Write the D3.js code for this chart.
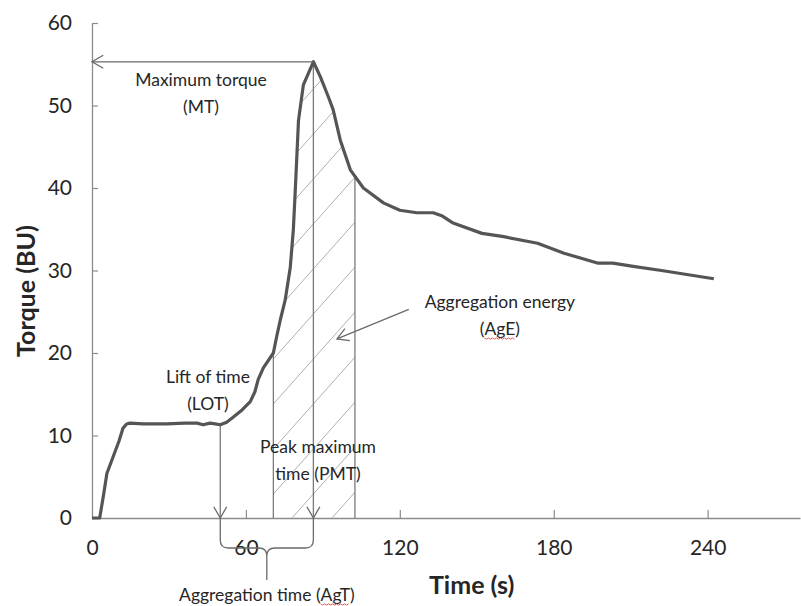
<!DOCTYPE html>
<html>
<head>
<meta charset="utf-8">
<script src="https://cdn.jsdelivr.net/npm/d3@7"></script>
<style>
  body { margin: 0; background: #fff; }
  text { font-family: Lato, "Open Sans", sans-serif; fill: #262626; }
</style>
</head>
<body>
<svg id="chart" width="801" height="606"></svg>
<script>
// torque curve
var timeS    = [0, 3, 4.5, 5.8, 8.2, 10.5, 12.1, 13.5, 14.8, 20, 29.3, 36, 41, 43.3, 46, 48, 50, 52.5, 55, 58.5, 61.7, 63.5, 64.8,
                66.8, 70.7, 72, 73.4, 75.3, 77.3, 78.5, 79.3, 80.5, 82.4, 86.3, 89, 92.2, 94, 96.8, 100.7, 105.8, 113.6,
                120, 126.6, 133, 136.6, 140.5, 152, 160.5, 173.7, 184, 197, 203, 211, 222, 242.4];
var torqueBU = [0, 0, 2.8, 5.4, 7.4, 9.3, 10.9, 11.4, 11.5, 11.4, 11.4, 11.5, 11.5, 11.3, 11.5, 11.4, 11.3, 11.6, 12.2, 13.1, 14.1, 15.3, 16.8,
                18.2, 20, 22, 24, 26.4, 30.4, 35, 40.1, 48.2, 52.5, 55.3, 53.5, 51, 49.5, 45.8, 42.2, 40, 38.2,
                37.3, 37.0, 37.0, 36.6, 35.8, 34.5, 34.1, 33.3, 32.1, 30.9, 30.9, 30.5, 30.0, 29.0];

var xTicks = [0, 60, 120, 180, 240];
var yTicks = [0, 10, 20, 30, 40, 50, 60];

// marker times (s)
var lotTime = 50, agStart = 70.7, pmtTime = 86.3, agEnd = 102.5;

var svg = d3.select("#chart");

var x = d3.scaleLinear().domain([0, 276]).range([92, 800]);
var y = d3.scaleLinear().domain([0, 60]).range([518, 23]);

var points = timeS.map(function (t, i) { return [t, torqueBU[i]]; });

function torqueAt(t) {
    var i = d3.bisectLeft(timeS, t);
    if (timeS[i] === t) return torqueBU[i];
    var k = (t - timeS[i - 1]) / (timeS[i] - timeS[i - 1]);
    return torqueBU[i - 1] + k * (torqueBU[i] - torqueBU[i - 1]);
}

// axes
var xAxis = d3.axisBottom(x).tickValues(xTicks).tickSize(-8).tickSizeOuter(0).tickPadding(22);
var yAxis = d3.axisLeft(y).tickValues(yTicks).tickSize(-6).tickSizeOuter(0).tickPadding(20);

var gx = svg.append("g").attr("transform", "translate(0," + y(0) + ")").call(xAxis);
var gy = svg.append("g").attr("transform", "translate(" + x(0) + ",0)").call(yAxis);

[gx, gy].forEach(function (g) {
    g.select(".domain").attr("stroke", "#8c8c8c").attr("stroke-width", 1.3);
    g.selectAll(".tick line").attr("stroke", "#8c8c8c").attr("stroke-width", 1.2);
    g.selectAll(".tick text").attr("font-size", 21).attr("fill", "#262626")
        .style("font-family", "Lato, 'Open Sans', sans-serif");
});
gx.selectAll(".tick").filter(function (d) { return d === 0; }).select("line").remove();

// hatched aggregation-energy area
var areaPts = [[agStart, torqueAt(agStart)]]
    .concat(points.filter(function (p) { return p[0] > agStart && p[0] < agEnd; }))
    .concat([[agEnd, torqueAt(agEnd)]]);

var area = d3.area()
    .x(function (d) { return x(d[0]); })
    .y0(y(0))
    .y1(function (d) { return y(d[1]); });

svg.append("clipPath").attr("id", "agClip")
    .append("path").attr("d", area(areaPts));

var hatch = svg.append("g").attr("clip-path", "url(#agClip)");
var slope = 1.125;
d3.range(-108, 380, 40).forEach(function (xb) {
    hatch.append("line")
        .attr("x1", xb).attr("y1", y(0))
        .attr("x2", xb + 500).attr("y2", y(0) - 500 * slope)
        .attr("stroke", "#b0b0b0").attr("stroke-width", 1);
});

// vertical marker lines
[lotTime, agStart, pmtTime, agEnd].forEach(function (t) {
    svg.append("line")
        .attr("x1", x(t)).attr("x2", x(t))
        .attr("y1", y(torqueAt(t))).attr("y2", y(0))
        .attr("stroke", "#7a7a7a").attr("stroke-width", 1.3);
});

// torque curve
var line = d3.line()
    .x(function (d) { return x(d[0]); })
    .y(function (d) { return y(d[1]); });

svg.append("path")
    .datum(points)
    .attr("d", line)
    .attr("fill", "none")
    .attr("stroke", "#555")
    .attr("stroke-width", 3.2)
    .attr("stroke-linejoin", "round");

// arrows
function chevron(px, py, ang) {
    var len = 13, spread = Math.PI / 6;
    var a1 = ang + Math.PI - spread, a2 = ang + Math.PI + spread;
    svg.append("path")
        .attr("d", "M" + (px + len * Math.cos(a1)) + "," + (py + len * Math.sin(a1)) +
                   "L" + px + "," + py +
                   "L" + (px + len * Math.cos(a2)) + "," + (py + len * Math.sin(a2)))
        .attr("fill", "none").attr("stroke", "#6a6a6a").attr("stroke-width", 1.3);
}

var peakV = torqueAt(pmtTime);
svg.append("line")
    .attr("x1", x(pmtTime)).attr("x2", x(0))
    .attr("y1", y(peakV)).attr("y2", y(peakV))
    .attr("stroke", "#6a6a6a").attr("stroke-width", 1.3);
chevron(x(0), y(peakV), Math.PI);
chevron(x(lotTime), y(0), Math.PI / 2);
chevron(x(pmtTime), y(0), Math.PI / 2);

// aggregation energy pointer
var eFrom = [x(123.5), y(25.3)], eTo = [x(95.5), y(21.7)];
svg.append("line")
    .attr("x1", eFrom[0]).attr("y1", eFrom[1])
    .attr("x2", eTo[0]).attr("y2", eTo[1])
    .attr("stroke", "#6a6a6a").attr("stroke-width", 1.3);
chevron(eTo[0], eTo[1], Math.atan2(eTo[1] - eFrom[1], eTo[0] - eFrom[0]));

// brace under the axis for aggregation time
var bl = x(lotTime), br = x(pmtTime), bm = (bl + br) / 2, by = y(0) + 30, r = 8;
svg.append("path")
    .attr("d",
        "M" + bl + "," + y(0) + "V" + (by - r) + "Q" + bl + "," + by + " " + (bl + r) + "," + by +
        "H" + (bm - r) + "Q" + bm + "," + by + " " + bm + "," + (by + r) + "V" + (by + 32) +
        "M" + br + "," + y(0) + "V" + (by - r) + "Q" + br + "," + by + " " + (br - r) + "," + by +
        "H" + (bm + r) + "Q" + bm + "," + by + " " + bm + "," + (by + r))
    .attr("fill", "none").attr("stroke", "#6a6a6a").attr("stroke-width", 1.3);

// annotation labels
var labels = [
    {t: 42.5, v: 53.1, lines: ["Maximum torque", "(MT)"]},
    {t: 45.2, v: 17.1, lines: ["Lift of time", "(LOT)"]},
    {t: 88.1, v: 8.6,  lines: ["Peak maximum", "time (PMT)"]},
    {t: 159,  v: 26.2, lines: ["Aggregation energy", "(AgE)"]},
    {t: 68.2, v: -9.3, lines: ["Aggregation time (AgT)"]}
];

labels.forEach(function (lb) {
    lb.lines.forEach(function (s, i) {
        var txt = svg.append("text")
            .attr("x", x(lb.t))
            .attr("y", y(lb.v) + i * 27)
            .attr("dy", "0.35em")
            .attr("text-anchor", "middle")
            .attr("font-size", 17.5)
            .text(s);
        if (s.indexOf("(Ag") >= 0) {
            var k = s.indexOf("(Ag") + 1;
            var node = txt.node();
            var sx = node.getStartPositionOfChar(k).x;
            var w = node.getSubStringLength(k, 3);
            var base = y(lb.v) + i * 27 + 0.35 * 17.5 + 3;
            var zz = d3.range(0, Math.floor(w / 2) + 1).map(function (j) {
                return [sx + j * 2, base + (j % 2 ? 1.2 : 0)];
            });
            svg.append("path").attr("d", d3.line()(zz))
                .attr("fill", "none").attr("stroke", "#e03030").attr("stroke-width", 0.8);
        }
    });
});

// axis titles
svg.append("text")
    .attr("x", x(148)).attr("y", 585).attr("dy", "0.35em")
    .attr("text-anchor", "middle")
    .attr("font-size", 25).attr("font-weight", "bold").attr("fill", "#1e1e1e")
    .text("Time (s)");

svg.append("text")
    .attr("transform", "translate(26," + 291 + ") rotate(-90)")
    .attr("dy", "0.35em")
    .attr("text-anchor", "middle")
    .attr("font-size", 25).attr("font-weight", "bold").attr("fill", "#1e1e1e")
    .text("Torque (BU)");
</script>
</body>
</html>
